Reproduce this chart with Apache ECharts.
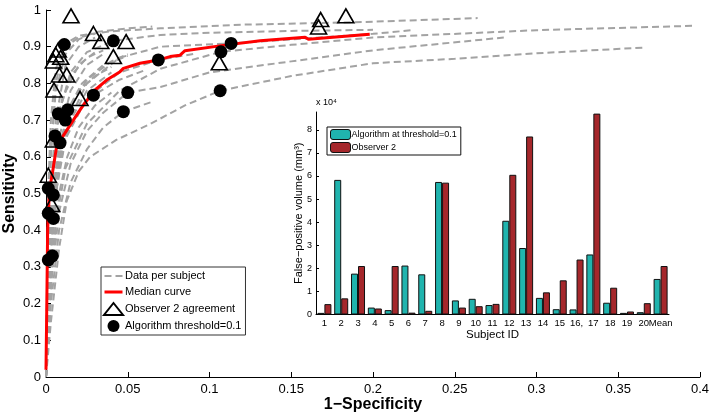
<!DOCTYPE html>
<html><head><meta charset="utf-8">
<script src="https://cdn.jsdelivr.net/npm/echarts@6/dist/echarts.min.js"></script>
<style>html,body{margin:0;padding:0;background:#fff}#c{width:711px;height:415px}</style>
</head><body><div id="c"></div>
<script>
// ---------- Main ROC plot data ----------
const subjectCurves = [
  [[0,0],[0.001,0.3],[0.003,0.6],[0.006,0.8],[0.0112,0.906],[0.02,0.93],[0.04,0.942],[0.07,0.95],[0.12,0.96],[0.2,0.968],[0.264,0.978]],
  [[0,0],[0.001,0.25],[0.004,0.55],[0.008,0.72],[0.015,0.83],[0.025,0.885],[0.0412,0.916],[0.07,0.932],[0.1,0.938],[0.15,0.943],[0.2,0.946]],
  [[0,0],[0.002,0.25],[0.006,0.5],[0.012,0.65],[0.025,0.76],[0.045,0.83],[0.0687,0.864],[0.09,0.88]],
  [[0,0],[0.002,0.3],[0.006,0.55],[0.012,0.66],[0.02,0.725],[0.029,0.768],[0.045,0.81],[0.06,0.835]],
  [[0,0],[0.003,0.25],[0.008,0.45],[0.015,0.58],[0.025,0.67],[0.035,0.72],[0.05,0.775],[0.07,0.79],[0.1,0.83],[0.15,0.86],[0.2,0.89],[0.28,0.925]],
  [[0,0],[0.003,0.2],[0.008,0.4],[0.015,0.53],[0.025,0.62],[0.035,0.68],[0.0473,0.723],[0.065,0.75]],
  [[0,0],[0.001,0.2],[0.003,0.45],[0.0075,0.717],[0.015,0.82],[0.025,0.87],[0.035,0.89]],
  [[0,0],[0.002,0.3],[0.006,0.55],[0.0133,0.728],[0.022,0.8],[0.035,0.85],[0.05,0.875]],
  [[0,0],[0.002,0.28],[0.006,0.52],[0.0118,0.70],[0.02,0.78],[0.03,0.82],[0.04,0.845]],
  [[0,0],[0.001,0.25],[0.003,0.5],[0.0055,0.657],[0.01,0.76],[0.02,0.85],[0.03,0.885]],
  [[0,0],[0.002,0.3],[0.005,0.52],[0.0086,0.638],[0.015,0.74],[0.025,0.81],[0.04,0.86],[0.05,0.88]],
  [[0,0],[0.0005,0.2],[0.0014,0.514],[0.003,0.7],[0.006,0.84],[0.012,0.9],[0.02,0.925],[0.03,0.935]],
  [[0,0],[0.001,0.2],[0.0045,0.496],[0.008,0.65],[0.015,0.78],[0.025,0.85],[0.035,0.88]],
  [[0,0],[0.0014,0.446],[0.003,0.62],[0.006,0.78],[0.012,0.88],[0.02,0.92],[0.03,0.94],[0.05,0.95],[0.065,0.955]],
  [[0,0],[0.002,0.25],[0.0045,0.432],[0.008,0.57],[0.015,0.7],[0.025,0.78],[0.04,0.83]],
  [[0,0],[0.0014,0.319],[0.003,0.5],[0.006,0.7],[0.012,0.85],[0.02,0.9],[0.03,0.925]],
  [[0,0],[0.0039,0.33],[0.008,0.5],[0.013,0.6],[0.02,0.68],[0.03,0.74],[0.04,0.775]],
  [[0,0],[0.003,0.15],[0.008,0.35],[0.0127,0.48],[0.02,0.56],[0.027,0.6],[0.043,0.646],[0.064,0.69],[0.085,0.74],[0.1065,0.78],[0.15,0.82],[0.2,0.855],[0.25,0.867],[0.3,0.882],[0.367,0.898]],
  [[0,0],[0.002,0.2],[0.006,0.42],[0.012,0.57],[0.025,0.69],[0.045,0.78],[0.07,0.84],[0.107,0.886],[0.15,0.905],[0.2,0.925],[0.3,0.945],[0.397,0.957]],
  [[0,0],[0.002,0.25],[0.006,0.5],[0.012,0.68],[0.025,0.8],[0.045,0.87],[0.07,0.9],[0.1132,0.909],[0.15,0.92],[0.2,0.935],[0.224,0.945]]
];
const medianCurve = [[0,0.02],[0.0005,0.2],[0.001,0.4],[0.0018,0.48],[0.0024,0.518],[0.0039,0.555],[0.0065,0.628],[0.0102,0.655],[0.0167,0.70],[0.0228,0.741],[0.030,0.782],[0.0371,0.809],[0.0453,0.832],[0.0473,0.841],[0.0575,0.855],[0.0687,0.864],[0.0759,0.873],[0.082,0.877],[0.085,0.889],[0.1106,0.905],[0.131,0.916],[0.1585,0.926],[0.1605,0.92],[0.198,0.934]];
const observer2Points = [[0.0153,0.984],[0.029,0.936],[0.0335,0.914],[0.049,0.914],[0.0412,0.873],[0.0075,0.891],[0.009,0.871],[0.0045,0.861],[0.0082,0.823],[0.0127,0.823],[0.0049,0.782],[0.0208,0.759],[0.0045,0.646],[0.0014,0.55],[0.106,0.856],[0.1667,0.954],[0.168,0.974],[0.1834,0.984],[0.0035,0.47],[0.006,0.878]];
const algorithmPoints = [[0.0112,0.906],[0.0412,0.916],[0.0687,0.864],[0.029,0.768],[0.05,0.775],[0.0473,0.723],[0.0075,0.717],[0.0133,0.728],[0.0118,0.70],[0.0055,0.657],[0.0086,0.638],[0.0014,0.514],[0.0045,0.496],[0.0014,0.446],[0.0045,0.432],[0.0014,0.319],[0.0039,0.33],[0.1065,0.78],[0.107,0.886],[0.1132,0.909]];

// ---------- Inset bar chart data (units of 10^4 mm^3) ----------
const subjectIds = ['1','2','3','4','5','6','7','8','9','10','11','12','13','14','15','16,','17','18','19','20','Mean'];
const algorithmFP = [0.07,5.83,1.77,0.30,0.19,2.12,1.74,5.74,0.61,0.68,0.41,4.06,2.88,0.72,0.23,0.22,2.60,0.51,0.07,0.10,1.54];
const observerFP  = [0.45,0.70,2.10,0.26,2.10,0.08,0.16,5.71,0.30,0.36,0.46,6.05,7.71,0.96,1.48,2.38,8.70,1.16,0.13,0.49,2.10];
const insetYTicks = [0,1,2,3,4,5,6,7,8];

const FONT = 'Liberation Sans, Arial, Helvetica, sans-serif';
const chart = echarts.init(document.getElementById('c'), null, {renderer:'canvas'});

const GRAY = '#a3a3a3';
const series = [];
subjectCurves.forEach(c => series.push({
  name:'Data per subject', type:'line', xAxisIndex:0, yAxisIndex:0, data:c,
  showSymbol:false, symbol:'none', silent:true, z:2,
  itemStyle:{color:GRAY},
  lineStyle:{color:GRAY, width:2, type:[7,4]}
}));
series.push({name:'Median curve', type:'line', xAxisIndex:0, yAxisIndex:0, data:medianCurve,
  showSymbol:false, symbol:'none', z:3, itemStyle:{color:'#ff0000'}, lineStyle:{color:'#ff0000', width:3}});
series.push({name:'Observer 2 agreement', type:'scatter', xAxisIndex:0, yAxisIndex:0, data:observer2Points,
  symbol:'triangle', symbolSize:[16,14], z:4,
  itemStyle:{color:'rgba(255,255,255,0)', borderColor:'#000', borderWidth:1.6, opacity:1}});
series.push({name:'Algorithm threshold=0.1', type:'scatter', xAxisIndex:0, yAxisIndex:0, data:algorithmPoints,
  symbol:'circle', symbolSize:13, z:5, itemStyle:{color:'#000', opacity:1}});
series.push({name:'Algorithm at threshold=0.1', type:'bar', xAxisIndex:1, yAxisIndex:1, data:algorithmFP,
  barWidth:7, barGap:'0%', z:8, itemStyle:{color:'#20b4ae', borderColor:'#111', borderWidth:1}});
series.push({name:'Observer 2', type:'bar', xAxisIndex:1, yAxisIndex:1, data:observerFP,
  barWidth:7, barGap:'0%', z:8, itemStyle:{color:'#a5272b', borderColor:'#111', borderWidth:1}});

const dashIcon = 'path://M0,0L0.01,0M0,12L0.01,12M0,5H7V7H0ZM11,5H18V7H11Z';
const solidIcon = 'path://M0,0L0.01,0M0,12L0.01,12M0,4.5H18V7.5H0Z';

chart.setOption({
  animation:false,
  backgroundColor:'#fff',
  textStyle:{fontFamily:FONT},
  grid:[
    {left:46, right:11, top:10, bottom:38, outerBoundsMode:'none', containLabel:false},
    {left:316, top:112, width:353, height:202.5, outerBoundsMode:'none', containLabel:false}
  ],
  xAxis:[
    {type:'value', gridIndex:0, min:0, max:0.4, interval:0.05,
     name:'1\u2212Specificity', nameLocation:'middle', nameGap:20, nameMoveOverlap:false,
     nameTextStyle:{fontSize:16, fontWeight:'bold', color:'#000', fontFamily:FONT},
     axisLine:{lineStyle:{color:'#000', width:1}}, axisTick:{inside:true, length:5, lineStyle:{color:'#000'}},
     axisLabel:{fontSize:13, color:'#000', margin:6, fontFamily:FONT}, splitLine:{show:false}},
    {type:'category', gridIndex:1, data:subjectIds,
     name:'Subject ID', nameLocation:'middle', nameGap:14, nameMoveOverlap:false,
     nameTextStyle:{fontSize:11.5, color:'#000', fontFamily:FONT},
     axisLine:{lineStyle:{color:'#000', width:1}}, axisTick:{show:false},
     axisLabel:{fontSize:9.5, color:'#000', margin:4, interval:0, fontFamily:FONT}, z:7}
  ],
  yAxis:[
    {type:'value', gridIndex:0, min:0, max:1, interval:0.1,
     name:'Sensitivity', nameLocation:'middle', nameGap:28, nameMoveOverlap:false,
     nameTextStyle:{fontSize:16, fontWeight:'bold', color:'#000', fontFamily:FONT},
     axisLine:{show:true, lineStyle:{color:'#000', width:1}}, axisTick:{show:true, inside:true, length:5, lineStyle:{color:'#000'}},
     axisLabel:{fontSize:13, color:'#000', margin:5, fontFamily:FONT}, splitLine:{show:false}},
    {type:'value', gridIndex:1, min:0, max:8.77,
     name:'False\u2212positive volume (mm\u00b3)', nameLocation:'middle', nameGap:12, nameMoveOverlap:false,
     nameTextStyle:{fontSize:11, color:'#000', fontFamily:FONT},
     axisLine:{show:true, lineStyle:{color:'#000', width:1}},
     axisTick:{show:true, inside:true, length:3, customValues:insetYTicks, lineStyle:{color:'#000'}},
     axisLabel:{fontSize:9, color:'#000', margin:4, customValues:insetYTicks, fontFamily:FONT},
     splitLine:{show:false}, z:7}
  ],
  legend:[
    {data:[{name:'Data per subject', icon:dashIcon},{name:'Median curve', icon:solidIcon},
           {name:'Observer 2 agreement'},{name:'Algorithm threshold=0.1'}],
     orient:'vertical', left:101, top:267, backgroundColor:'#fff', borderColor:'#333', borderWidth:1,
     padding:[3,4,3,2], itemGap:4, itemWidth:19, itemHeight:12, z:10,
     textStyle:{fontSize:11, color:'#000', fontFamily:FONT, padding:[0,0,0,-3]}},
    {data:['Algorithm at threshold=0.1','Observer 2'],
     orient:'vertical', left:327, top:127, backgroundColor:'#fff', borderColor:'#111', borderWidth:1,
     padding:[2,4,2,3], itemGap:2, itemWidth:20, itemHeight:10, z:10,
     itemStyle:{borderColor:'#111', borderWidth:1},
     textStyle:{fontSize:9, color:'#000', fontFamily:FONT, padding:[0,0,0,-4]}}
  ],
  graphic:[
    {type:'text', left:316, top:98, z:10, style:{text:'x 10\u2074', fontSize:9, fill:'#000', fontFamily:FONT}}
  ],
  series:series
});
</script></body></html>
